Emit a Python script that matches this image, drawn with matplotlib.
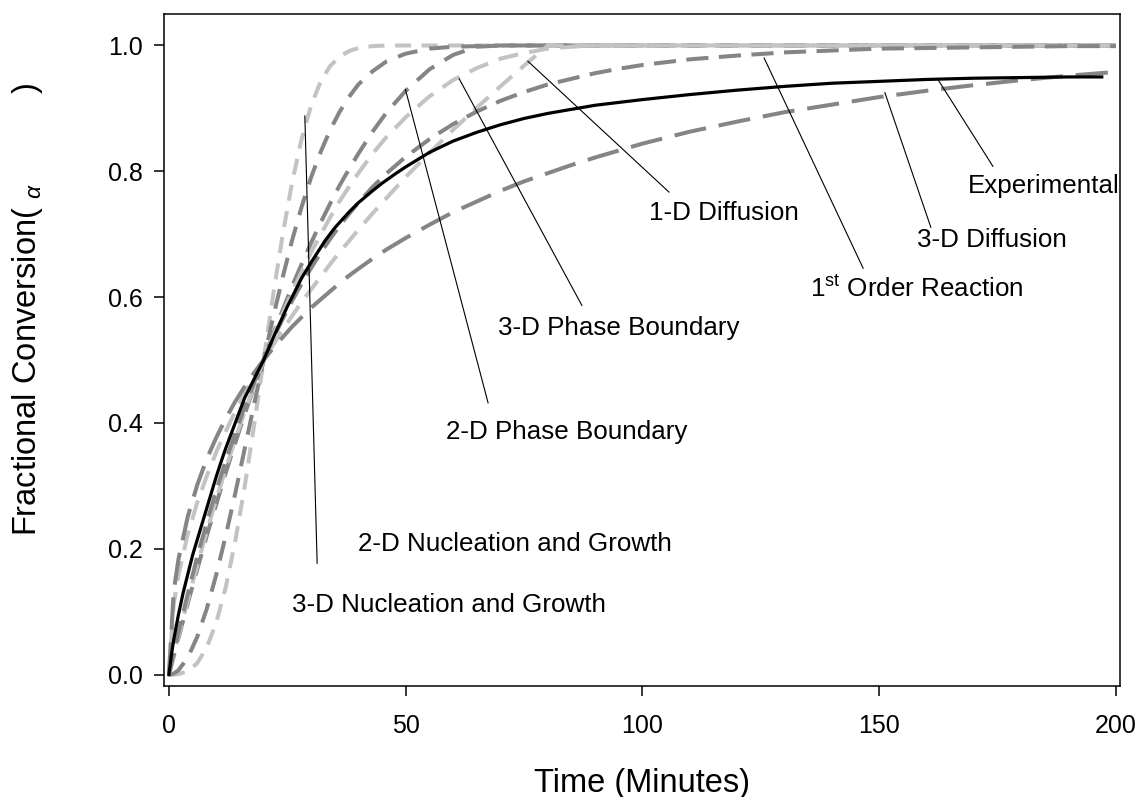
import matplotlib
matplotlib.use("Agg")
import matplotlib.pyplot as plt

plt.rcParams['font.family'] = ['Liberation Sans', 'DejaVu Sans']
plt.rcParams['mathtext.fontset'] = 'custom'
plt.rcParams['mathtext.rm'] = 'Liberation Sans'
plt.rcParams['mathtext.it'] = 'Liberation Sans:italic'

# tiempo comun para los modelos (min)
t_mod = [0, 1, 2, 4, 6, 8, 10, 12, 14, 16, 18, 20, 22, 24, 26, 28, 30, 32, 34, 36, 38, 40,
         43, 46, 50, 55, 60, 65, 70, 75, 80, 85, 90, 95, 100,
         110, 120, 130, 140, 150, 160, 170, 180, 190, 200]

nucl_3d = [0, 0.0001, 0.0007, 0.0055, 0.0185, 0.0434, 0.083, 0.139, 0.212, 0.299, 0.397, 0.5,
           0.603, 0.698, 0.782, 0.851, 0.904, 0.942, 0.967, 0.982, 0.991, 0.996,
           0.999, 1.0, 1.0, 1.0, 1.0, 1.0, 1.0, 1.0, 1.0, 1.0, 1.0, 1.0, 1.0,
           1.0, 1.0, 1.0, 1.0, 1.0, 1.0, 1.0, 1.0, 1.0, 1.0]
nucl_2d = [0, 0.0017, 0.0069, 0.0273, 0.0605, 0.105, 0.159, 0.221, 0.288, 0.359, 0.43, 0.5,
           0.568, 0.631, 0.69, 0.743, 0.79, 0.83, 0.865, 0.894, 0.918, 0.938,
           0.959, 0.975, 0.987, 0.995, 0.998, 0.999, 1.0, 1.0, 1.0, 1.0, 1.0, 1.0, 1.0,
           1.0, 1.0, 1.0, 1.0, 1.0, 1.0, 1.0, 1.0, 1.0, 1.0]
phase_2d = [0, 0.029, 0.058, 0.114, 0.168, 0.221, 0.271, 0.321, 0.368, 0.414, 0.458, 0.5,
            0.541, 0.579, 0.617, 0.652, 0.686, 0.718, 0.748, 0.777, 0.803, 0.828,
            0.863, 0.894, 0.928, 0.962, 0.985, 0.998, 1.0, 1.0, 1.0, 1.0, 1.0, 1.0, 1.0,
            1.0, 1.0, 1.0, 1.0, 1.0, 1.0, 1.0, 1.0, 1.0, 1.0]
phase_3d = [0, 0.031, 0.061, 0.119, 0.174, 0.228, 0.279, 0.327, 0.374, 0.418, 0.46, 0.5,
            0.538, 0.574, 0.608, 0.64, 0.671, 0.699, 0.726, 0.752, 0.775, 0.797,
            0.828, 0.855, 0.886, 0.919, 0.945, 0.964, 0.979, 0.988, 0.995, 0.998, 1.0, 1.0, 1.0,
            1.0, 1.0, 1.0, 1.0, 1.0, 1.0, 1.0, 1.0, 1.0, 1.0]
diff_1d = [0, 0.112, 0.158, 0.224, 0.274, 0.316, 0.354, 0.387, 0.418, 0.447, 0.474, 0.5,
           0.524, 0.548, 0.57, 0.592, 0.612, 0.632, 0.652, 0.671, 0.689, 0.707,
           0.733, 0.758, 0.791, 0.829, 0.866, 0.901, 0.935, 0.968, 1.0, 1.0, 1.0, 1.0, 1.0,
           1.0, 1.0, 1.0, 1.0, 1.0, 1.0, 1.0, 1.0, 1.0, 1.0]
first_order = [0, 0.034, 0.067, 0.129, 0.188, 0.242, 0.293, 0.34, 0.384, 0.426, 0.464, 0.5,
               0.534, 0.565, 0.594, 0.621, 0.646, 0.67, 0.692, 0.713, 0.732, 0.75,
               0.775, 0.797, 0.823, 0.851, 0.875, 0.895, 0.912, 0.926, 0.938, 0.947, 0.956, 0.963, 0.969,
               0.978, 0.984, 0.989, 0.992, 0.995, 0.996, 0.997, 0.998, 0.999, 0.999]
diff_3d = [0, 0.132, 0.183, 0.252, 0.302, 0.343, 0.377, 0.407, 0.434, 0.458, 0.48, 0.5,
           0.519, 0.536, 0.553, 0.568, 0.583, 0.596, 0.609, 0.622, 0.634, 0.645,
           0.661, 0.676, 0.694, 0.715, 0.735, 0.752, 0.769, 0.784, 0.797, 0.81, 0.822, 0.833, 0.844,
           0.863, 0.879, 0.894, 0.906, 0.918, 0.928, 0.937, 0.945, 0.952, 0.958]

# datos experimentales
t_exp = [0, 0.5, 1, 1.5, 2, 3, 4, 5, 6, 7, 8, 9, 10, 11, 12, 13, 14, 15, 16, 18, 20, 22,
         25, 28, 30, 33, 35, 38, 40, 43, 45, 48, 50, 55, 60, 65, 70,
         75, 80, 90, 100, 110, 120, 130, 140, 150, 160, 170, 180, 190, 197]
a_exp = [0, 0.03, 0.055, 0.075, 0.095, 0.13, 0.16, 0.19, 0.215, 0.24, 0.265, 0.29, 0.315,
         0.338, 0.36, 0.38, 0.40, 0.42, 0.44, 0.47, 0.50, 0.535,
         0.585, 0.63, 0.655, 0.69, 0.71, 0.735, 0.75, 0.769, 0.781, 0.797, 0.807, 0.83, 0.848,
         0.862, 0.874, 0.884, 0.892, 0.905, 0.914, 0.922, 0.929, 0.935,
         0.94, 0.943, 0.946, 0.948, 0.949, 0.95, 0.95]

dark = '#858585'
light = '#c3c3c3'

fig = plt.figure(figsize=(11.41, 7.97), dpi=100)
ax = fig.add_axes([0.1437, 0.1393, 0.8379, 0.8431])

lw = 2.9
modelos = [
    (nucl_3d, light, (4.0, 2.6)),
    (nucl_2d, dark, (5.0, 3.0)),
    (phase_2d, dark, (5.5, 3.0)),
    (phase_3d, light, (5.0, 2.8)),
    (diff_1d, light, (5.0, 2.8)),
    (first_order, dark, (5.5, 2.6)),
    (diff_3d, dark, (8.0, 3.2)),
]
for y, c, d in modelos:
    ax.plot(t_mod, y, color=c, lw=lw, dashes=d, solid_capstyle='butt', dash_capstyle='butt')

ax.plot(t_exp, a_exp, color='black', lw=2.3)

# etiquetas con lineas guia: (texto, x, y, x1, y1, x2, y2)
etiquetas = [
    ('Experimental', 168.7, 0.765, 162.4, 0.946, 174.0, 0.808),
    ('3-D Diffusion', 158.0, 0.680, 151.2, 0.925, 160.9, 0.711),
    (r'1$^{\rm st}$ Order Reaction', 135.4, 0.600, 125.7, 0.980, 146.6, 0.646),
    ('1-D Diffusion', 101.3, 0.722, 75.8, 0.975, 105.6, 0.767),
    ('3-D Phase Boundary', 69.5, 0.540, 61.3, 0.947, 87.2, 0.587),
    ('2-D Phase Boundary', 58.5, 0.374, 49.95, 0.930, 67.4, 0.432),
    ('2-D Nucleation and Growth', 39.9, 0.196, 28.7, 0.888, 31.3, 0.177),
    ('3-D Nucleation and Growth', 26.0, 0.099, None, None, None, None),
]
for txt, tx, ty, x1, y1, x2, y2 in etiquetas:
    ax.text(tx, ty, txt, fontsize=18.7, ha='left', va='baseline')
    if x1 is not None:
        ax.plot([x1, x2], [y1, y2], color='black', lw=0.8)

ax.set_xlim(-1.05, 200.85)
ax.set_ylim(-0.018, 1.05)
ax.set_xticks([0, 50, 100, 150, 200])
ax.set_yticks([0.0, 0.2, 0.4, 0.6, 0.8, 1.0])
ax.set_yticklabels(['0.0', '0.2', '0.4', '0.6', '0.8', '1.0'])
ax.tick_params(direction='out', length=7.5, width=1.1, labelsize=18)
ax.tick_params(axis='x', pad=13)
ax.tick_params(axis='y', pad=8)
for s in ax.spines.values():
    s.set_linewidth(1.1)

ax.set_xlabel('Time (Minutes)', fontsize=23.5)
ax.set_ylabel(r'Fractional Conversion( $_{\alpha}$          )', fontsize=23.5)
ax.xaxis.set_label_coords(0.5, -0.122)
ax.yaxis.set_label_coords(-0.124, 0.56)

plt.savefig('out.png', dpi=100)
